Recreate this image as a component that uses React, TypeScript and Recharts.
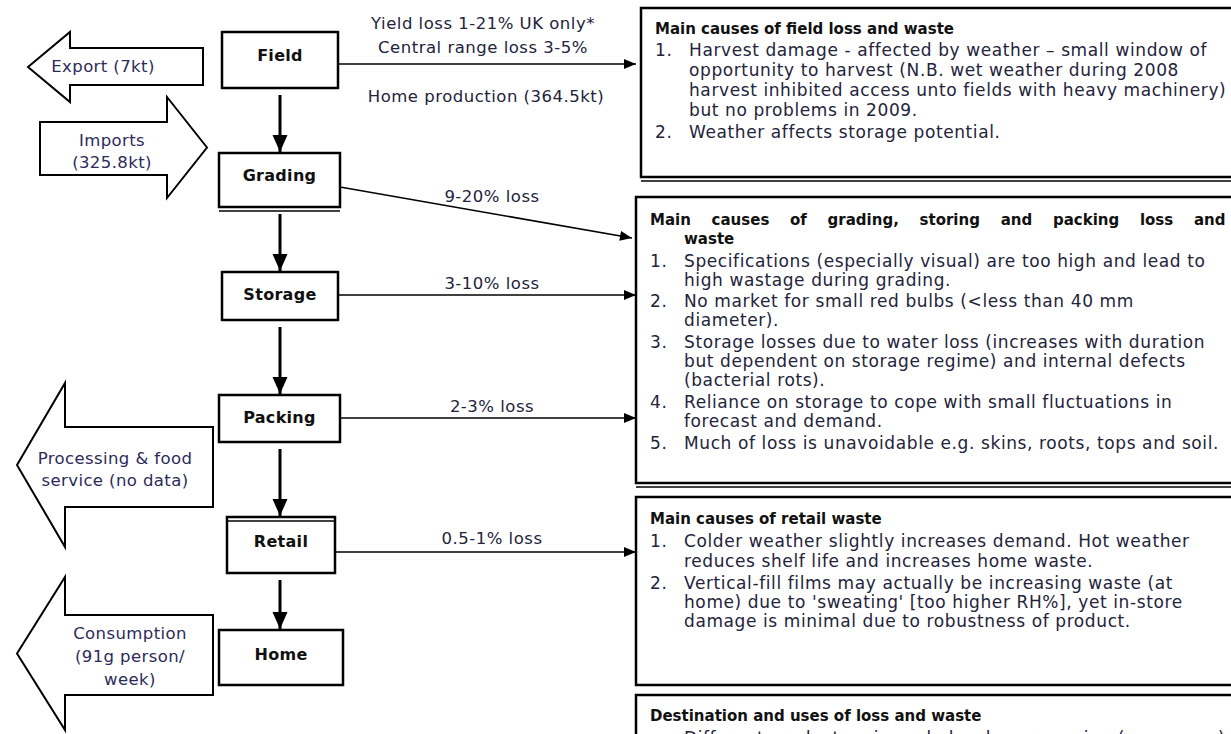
import React from "react";
import { ScatterChart, Scatter, XAxis, YAxis, ReferenceArea } from "recharts";

const W = 1231;
const H = 734;
const FONT = "'DejaVu Sans', Verdana, sans-serif";
const INK = "#23233b";

// supply chain stages, top to bottom
const stageNames = ["Field", "Grading", "Storage", "Packing", "Retail", "Home"];
// [x1, x2, y1, y2] in chart units (chart is 1:1 with pixels)
const stageBoxes = [
  [222, 338, 32, 88],
  [219, 340, 153, 207],
  [222, 338, 272, 320],
  [219, 340, 395, 442],
  [227, 335, 517, 573],
  [219, 343, 630, 685],
];
const stageLabelY = [55, 175, 294, 417, 541, 654];
const flowX = 280;

// losses between stages and the cause boxes
const lossLabels = [
  "Yield loss 1-21% UK only*",
  "Central range loss 3-5%",
  "Home production (364.5kt)",
  "9-20% loss",
  "3-10% loss",
  "2-3% loss",
  "0.5-1% loss",
];
const lossLabelPos = [
  [483, 23],
  [483, 47],
  [486, 96],
  [492, 196],
  [492, 283],
  [492, 406],
  [492, 538],
];
const lossArrows = [
  [338, 64, 636, 64],
  [340, 187, 632, 238],
  [338, 295, 636, 295],
  [340, 418, 636, 418],
  [335, 552, 636, 552],
];

// big block arrows on the left
const sideLabels = [
  ["Export (7kt)"],
  ["Imports", "(325.8kt)"],
  ["Processing & food", "service (no data)"],
  ["Consumption", "(91g person/", "week)"],
];
const sideShapes = [
  { dir: -1, x1: 28, x2: 203, y1: 32, y2: 102, neck: 70, b1: 48, b2: 85 },
  { dir: 1, x1: 40, x2: 207, y1: 97, y2: 198, neck: 167, b1: 122, b2: 175 },
  { dir: -1, x1: 17, x2: 213, y1: 383, y2: 547, neck: 65, b1: 427, b2: 507 },
  { dir: -1, x1: 17, x2: 213, y1: 577, y2: 730, neck: 65, b1: 615, b2: 695 },
];
const sideLabelX = [103, 112, 115, 130];
const sideLabelY = [[66], [140, 162], [458, 480], [633, 656, 679]];

// cause boxes on the right
const causeTitles = [
  "Main causes of field loss and waste",
  "Main causes of grading, storing and packing loss and",
  "Main causes of retail waste",
  "Destination and uses of loss and waste",
];
// [x1, y1, y2]
const causeBoxes = [
  [641, 8, 177],
  [636, 197, 483],
  [636, 497, 685],
  [636, 695, 770],
];
const causeTitleY = [29, 220, 519, 716];
// [box, number, text, y]
const causeLines: [number, string, string, number][] = [
  [0, "1.", "Harvest damage - affected by weather \u2013 small window of", 50],
  [0, "", "opportunity to harvest (N.B. wet weather during 2008", 70],
  [0, "", "harvest inhibited access unto fields with heavy machinery)", 90],
  [0, "", "but no problems in 2009.", 110],
  [0, "2.", "Weather affects storage potential.", 132],
  [1, "1.", "Specifications (especially visual) are too high and lead to", 261],
  [1, "", "high wastage during grading.", 280],
  [1, "2.", "No market for small red bulbs (<less than 40 mm", 301],
  [1, "", "diameter).", 320],
  [1, "3.", "Storage losses due to water loss (increases with duration", 342],
  [1, "", "but dependent on storage regime) and internal defects", 361],
  [1, "", "(bacterial rots).", 380],
  [1, "4.", "Reliance on storage to cope with small fluctuations in", 402],
  [1, "", "forecast and demand.", 421],
  [1, "5.", "Much of loss is unavoidable e.g. skins, roots, tops and soil.", 443],
  [2, "1.", "Colder weather slightly increases demand. Hot weather", 541],
  [2, "", "reduces shelf life and increases home waste.", 561],
  [2, "2.", "Vertical-fill films may actually be increasing waste (at", 583],
  [2, "", "home) due to 'sweating' [too higher RH%], yet in-store", 602],
  [2, "", "damage is minimal due to robustness of product.", 621],
  [3, "", "Different products arise; wholesale, processing (e.g. soups)", 738],
];
const wasteLineY = 239;
// second (shadow) lines under some boxes: [x1, x2, y]
const shadowRules = [
  [641, 1231, 181],
  [636, 1231, 487],
  [219, 340, 211],
  [227, 335, 521],
];

type Kind = "stage" | "label" | "side" | "title" | "titleJ" | "num" | "body";
type Txt = { x: number; y: number; text: string; kind: Kind };

const texts: Txt[] = [];
stageNames.forEach((s, i) =>
  texts.push({ x: (stageBoxes[i][0] + stageBoxes[i][1]) / 2, y: stageLabelY[i], text: s, kind: "stage" })
);
lossLabels.forEach((s, i) => texts.push({ x: lossLabelPos[i][0], y: lossLabelPos[i][1], text: s, kind: "label" }));
sideLabels.forEach((ls, i) =>
  ls.forEach((s, j) => texts.push({ x: sideLabelX[i], y: sideLabelY[i][j], text: s, kind: "side" }))
);
causeTitles.forEach((s, i) =>
  texts.push({ x: causeBoxes[i][0] + 14, y: causeTitleY[i], text: s, kind: i === 1 ? "titleJ" : "title" })
);
texts.push({ x: causeBoxes[1][0] + 48, y: wasteLineY, text: "waste", kind: "title" });
causeLines.forEach(([b, n, s, y]) => {
  const left = causeBoxes[b][0] + 14;
  if (n) texts.push({ x: left, y, text: n, kind: "num" });
  texts.push({ x: left + 34, y, text: s, kind: "body" });
});

const styles: Record<Kind, any> = {
  stage: { fontSize: 16, fontWeight: 700, anchor: "middle", fill: "#111", ls: 0.3 },
  label: { fontSize: 16.5, fontWeight: 400, anchor: "middle", fill: INK, ls: 0.5 },
  side: { fontSize: 16.5, fontWeight: 400, anchor: "middle", fill: "#2c2a5a", ls: 0.4 },
  title: { fontSize: 15, fontWeight: 700, anchor: "start", fill: "#111", ls: 0 },
  titleJ: { fontSize: 15, fontWeight: 700, anchor: "start", fill: "#111", ls: 0, ws: 15.5 },
  num: { fontSize: 17, fontWeight: 400, anchor: "start", fill: INK, ls: 0.6 },
  body: { fontSize: 17, fontWeight: 400, anchor: "start", fill: INK, ls: 0.6 },
};

const TextMark = (props: any) => {
  const { cx, cy, payload } = props;
  const st = styles[payload.kind as Kind];
  return (
    <text
      x={cx}
      y={cy}
      fontFamily={FONT}
      fontSize={st.fontSize}
      fontWeight={st.fontWeight}
      textAnchor={st.anchor}
      dominantBaseline="central"
      fill={st.fill}
      letterSpacing={st.ls}
      style={st.ws ? { wordSpacing: st.ws } : undefined}
    >
      {payload.text}
    </text>
  );
};

const headShape = (len: number, half: number) => (props: any) => {
  const { cx, cy, payload } = props;
  if (!payload.head) return <g />;
  const a = payload.angle;
  const bx = cx - len * Math.cos(a);
  const by = cy - len * Math.sin(a);
  const px = -Math.sin(a) * half;
  const py = Math.cos(a) * half;
  return <polygon points={`${cx},${cy} ${bx + px},${by + py} ${bx - px},${by - py}`} fill="#000" />;
};
const noShape = () => <g />;

const arrowData = (x1: number, y1: number, x2: number, y2: number) => [
  { x: x1, y: y1 },
  { x: x2, y: y2, head: true, angle: Math.atan2(y2 - y1, x2 - x1) },
];

const blockArrow = (def: (typeof sideShapes)[number]) => (p: any) => {
  const sx = p.width / (def.x2 - def.x1);
  const sy = p.height / (def.y2 - def.y1);
  const X = (v: number) => p.x + (v - def.x1) * sx;
  const Y = (v: number) => p.y + (v - def.y1) * sy;
  const cy = p.y + p.height / 2;
  const tipX = def.dir < 0 ? p.x : p.x + p.width;
  const tailX = def.dir < 0 ? p.x + p.width : p.x;
  const nx = X(def.neck);
  const pts = [
    [tipX, cy],
    [nx, p.y],
    [nx, Y(def.b1)],
    [tailX, Y(def.b1)],
    [tailX, Y(def.b2)],
    [nx, Y(def.b2)],
    [nx, p.y + p.height],
  ];
  return (
    <polygon
      points={pts.map((q) => q.join(",")).join(" ")}
      fill="#fff"
      stroke="#000"
      strokeWidth={2}
      strokeLinejoin="miter"
    />
  );
};

export default function App() {
  return (
    <div style={{ position: "absolute", left: 0, top: 0, width: W, height: H, background: "#fff" }}>
      <ScatterChart width={W} height={H} margin={{ top: 0, right: 0, bottom: 0, left: 0 }}>
        <XAxis type="number" dataKey="x" domain={[0, W]} hide allowDataOverflow />
        <YAxis type="number" dataKey="y" domain={[0, H]} reversed hide allowDataOverflow />

        {causeBoxes.map(([x1, y1, y2], i) => (
          <ReferenceArea
            key={`cb${i}`}
            x1={x1}
            x2={W + 20}
            y1={y1}
            y2={y2}
            ifOverflow="visible"
            fill="#fff"
            fillOpacity={1}
            stroke="#000"
            strokeWidth={2.5}
          />
        ))}
        {stageBoxes.map(([x1, x2, y1, y2], i) => (
          <ReferenceArea
            key={`sb${i}`}
            x1={x1}
            x2={x2}
            y1={y1}
            y2={y2}
            ifOverflow="visible"
            fill="#fff"
            fillOpacity={1}
            stroke="#000"
            strokeWidth={2.5}
          />
        ))}
        {sideShapes.map((d, i) => (
          <ReferenceArea
            key={`sa${i}`}
            x1={d.x1}
            x2={d.x2}
            y1={d.y1}
            y2={d.y2}
            ifOverflow="visible"
            shape={blockArrow(d)}
          />
        ))}

        {shadowRules.map(([x1, x2, y], i) => (
          <Scatter
            key={`sh${i}`}
            data={[{ x: x1, y }, { x: x2, y }]}
            line={{ stroke: "#000", strokeWidth: 1.4 }}
            shape={noShape}
            isAnimationActive={false}
          />
        ))}

        {stageBoxes.slice(0, -1).map((b, i) => (
          <Scatter
            key={`fa${i}`}
            data={arrowData(flowX, b[3] + 7, flowX, stageBoxes[i + 1][2] - 1)}
            line={{ stroke: "#000", strokeWidth: 3 }}
            shape={headShape(17, 7.5)}
            isAnimationActive={false}
          />
        ))}
        {lossArrows.map(([x1, y1, x2, y2], i) => (
          <Scatter
            key={`la${i}`}
            data={arrowData(x1, y1, x2, y2)}
            line={{ stroke: "#000", strokeWidth: 1.6 }}
            shape={headShape(12, 5)}
            isAnimationActive={false}
          />
        ))}

        <Scatter data={texts} shape={TextMark} isAnimationActive={false} />
      </ScatterChart>
    </div>
  );
}
